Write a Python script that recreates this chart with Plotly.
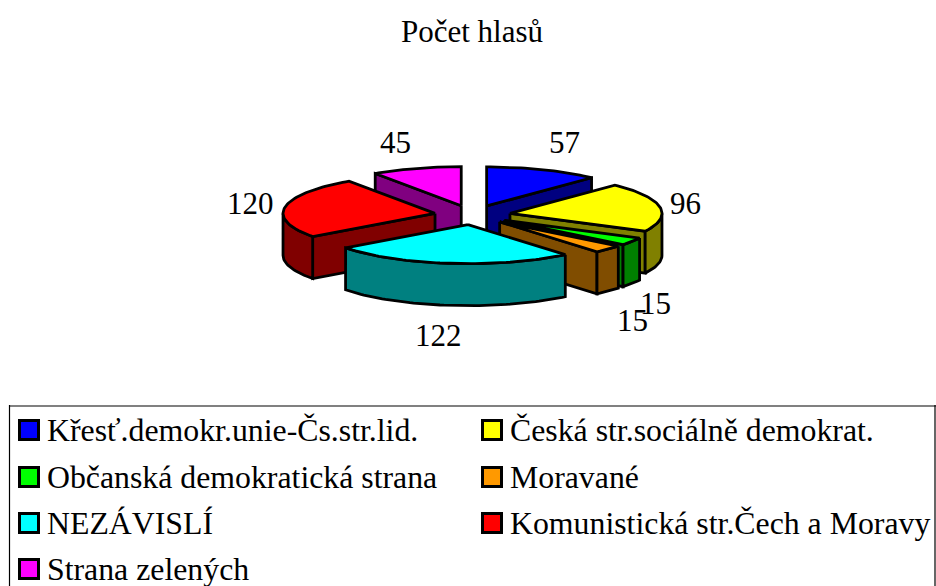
import numpy as np
import plotly.graph_objects as go

title = "Počet hlasů"
categories = ["Křesť.demokr.unie-Čs.str.lid.", "Česká str.sociálně demokrat.",
              "Občanská demokratická strana", "Moravané", "NEZÁVISLÍ",
              "Komunistická str.Čech a Moravy", "Strana zelených"]
values = [57, 96, 15, 15, 122, 120, 45]
top_colors = ["#0000FF", "#FFFF00", "#00FF00", "#FF9900", "#00FFFF", "#FF0000", "#FF00FF"]
side_colors = ["#000080", "#808000", "#008000", "#804D00", "#008080", "#800000", "#800080"]

# projection of the tilted pie onto the pixel-sized axes
CX, CY, RX, RY, DEPTH, EXPLODE = 472.5, 215, 152, 39, 42, 0.25
LABEL_POS = [(564, 142), (685, 203), (655, 303), (632.5, 320), (438, 335), (250, 203), (395, 142)]
SERIF = "Liberation Serif"
FS = 31.8


def pt(ax, ay, a, r=1.0):
    t = np.radians(a)
    return ax + r * RX * np.sin(t), ay - r * RY * np.cos(t)


def arc(ax, ay, a0, a1):
    n = max(2, int(abs(a1 - a0) / 1.5) + 2)
    ts = np.linspace(a0, a1, n)
    return [pt(ax, ay, t) for t in ts]


fig = go.Figure()


def poly(points, fill):
    xs = [p[0] for p in points] + [points[0][0]]
    ys = [p[1] for p in points] + [points[0][1]]
    fig.add_trace(go.Scatter(x=xs, y=ys, mode="lines", fill="toself", fillcolor=fill,
                             line=dict(color="black", width=2.8), hoverinfo="skip",
                             showlegend=False))


total = sum(values)
edges = np.concatenate([[0], np.cumsum(values)]) / total * 360
wedges = []
for i, v in enumerate(values):
    a0, a1 = edges[i], edges[i + 1]
    mid = (a0 + a1) / 2
    ax, ay = pt(CX, CY, mid, EXPLODE)
    wedges.append((ay, i, a0, a1, ax))

for ay, i, a0, a1, ax in sorted(wedges):
    down = lambda p: (p[0], p[1] + DEPTH)
    apex = (ax, ay)
    if np.sin(np.radians(a0)) < 0:
        e = pt(ax, ay, a0)
        poly([apex, e, down(e), down(apex)], side_colors[i])
    if np.sin(np.radians(a1)) > 0:
        e = pt(ax, ay, a1)
        poly([apex, e, down(e), down(apex)], side_colors[i])
    lo, hi = max(a0, 90), min(a1, 270)
    if lo < hi:
        rim = arc(ax, ay, lo, hi)
        poly(rim + [down(p) for p in rim[::-1]], side_colors[i])
    poly([apex] + arc(ax, ay, a0, a1), top_colors[i])

# legend
LEG_X = [29, 492]
LEG_Y = [430, 477, 523, 569]
LEG_ORDER = [(0, 0), (1, 0), (0, 1), (1, 1), (0, 2), (1, 2), (0, 3)]
fig.add_trace(go.Scatter(
    x=[LEG_X[c] for c, r in LEG_ORDER], y=[LEG_Y[r] for c, r in LEG_ORDER], mode="markers",
    marker=dict(symbol="square", size=19, color=top_colors, line=dict(color="black", width=3)),
    hoverinfo="skip", showlegend=False))

annotations = [dict(x=472, y=31, text=title, showarrow=False, xanchor="center", yanchor="middle",
                    font=dict(family=SERIF, size=31, color="black"))]
for v, (x, y) in zip(values, LABEL_POS):
    annotations.append(dict(x=x, y=y, text=str(v), showarrow=False, xanchor="center",
                            yanchor="middle", font=dict(family=SERIF, size=31, color="black")))
for name, (c, r) in zip(categories, LEG_ORDER):
    annotations.append(dict(x=LEG_X[c] + 16, y=LEG_Y[r], text=name, showarrow=False, xanchor="left",
                            yanchor="middle", font=dict(family=SERIF, size=FS, color="black")))

border = [
    dict(type="line", x0=9, x1=936, y0=406, y1=406, line=dict(color="#808080", width=2)),
    dict(type="line", x0=9.5, x1=9.5, y0=405, y1=586, line=dict(color="black", width=1.2)),
    dict(type="line", x0=935, x1=935, y0=405, y1=586, line=dict(color="black", width=1.2)),
]
fig.update_layout(
    width=936, height=586, margin=dict(l=0, r=0, t=0, b=0),
    paper_bgcolor="white", plot_bgcolor="white",
    xaxis=dict(range=[0, 936], visible=False, fixedrange=True),
    yaxis=dict(range=[586, 0], visible=False, fixedrange=True),
    annotations=annotations,
    shapes=[dict(xref="x", yref="y", layer="below", **b) for b in border],
)
fig.write_html("out.html", config={"displayModeBar": False},
               post_script="document.body.style.margin='0';document.body.style.overflow='hidden';")
